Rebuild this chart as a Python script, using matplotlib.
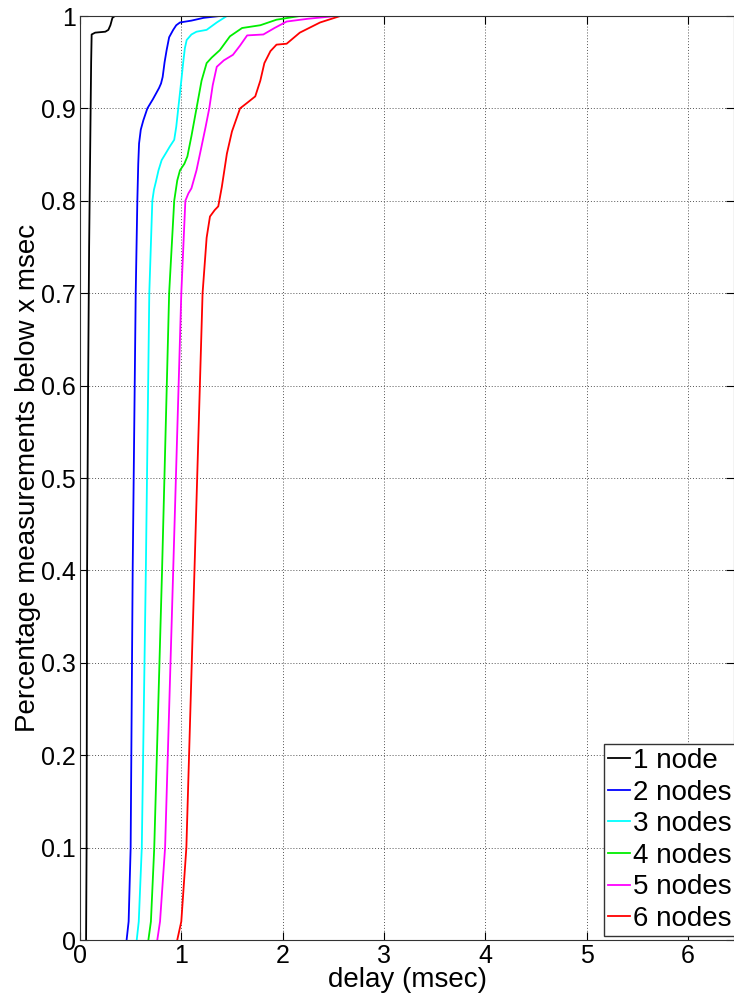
import matplotlib.pyplot as plt

# CDF curves (delay in msec, fraction below x)
labels = ['1 node', '2 nodes', '3 nodes', '4 nodes', '5 nodes', '6 nodes']
colors = ['black', 'blue', 'cyan', '#00ee00', 'magenta', 'red']

x1 = [0.06, 0.065, 0.07, 0.08, 0.09, 0.10, 0.11, 0.115, 0.15, 0.25, 0.28, 0.30, 0.32, 0.345, 0.55]
y1 = [0.0, 0.1, 0.4, 0.6, 0.75, 0.85, 0.95, 0.98, 0.982, 0.983, 0.985, 0.99, 0.998, 1.0, 1.0]

x2 = [0.46, 0.48, 0.50, 0.52, 0.55, 0.566, 0.575, 0.583, 0.60, 0.625, 0.665, 0.72, 0.78, 0.80,
      0.816, 0.835, 0.855, 0.88, 0.92, 0.95, 0.987, 1.10, 1.22, 1.38, 1.45]
y2 = [0.0, 0.02, 0.1, 0.4, 0.7, 0.8, 0.84, 0.862, 0.877, 0.887, 0.9, 0.91, 0.922, 0.927,
      0.934, 0.95, 0.963, 0.977, 0.985, 0.99, 0.993, 0.995, 0.998, 1.0, 1.0]

x3 = [0.56, 0.58, 0.61, 0.65, 0.684, 0.714, 0.73, 0.75, 0.775, 0.806, 0.85, 0.888, 0.93, 0.95,
      0.97, 1.0, 1.02, 1.035, 1.053, 1.10, 1.15, 1.25, 1.35, 1.45, 1.55]
y3 = [0.0, 0.02, 0.1, 0.4, 0.7, 0.8, 0.812, 0.821, 0.833, 0.844, 0.852, 0.859, 0.866, 0.88,
      0.9, 0.93, 0.951, 0.965, 0.974, 0.98, 0.983, 0.985, 0.993, 1.0, 1.0]

x4 = [0.675, 0.70, 0.733, 0.81, 0.88, 0.93, 0.96, 0.987, 1.03, 1.06, 1.10, 1.15, 1.20, 1.25,
      1.30, 1.38, 1.48, 1.60, 1.78, 1.94, 2.17, 2.3]
y4 = [0.0, 0.02, 0.1, 0.4, 0.7, 0.8, 0.822, 0.833, 0.84, 0.848, 0.87, 0.9, 0.93, 0.949,
      0.955, 0.963, 0.978, 0.987, 0.99, 0.996, 1.0, 1.0]

x5 = [0.763, 0.79, 0.84, 0.92, 1.0, 1.04, 1.07, 1.10, 1.15, 1.20, 1.24, 1.276, 1.31, 1.35, 1.42,
      1.51, 1.58, 1.65, 1.81, 1.92, 2.04, 2.25, 2.53, 2.6]
y5 = [0.0, 0.02, 0.1, 0.4, 0.7, 0.8, 0.808, 0.8135, 0.833, 0.859, 0.88, 0.9, 0.925, 0.945, 0.952,
      0.958, 0.968, 0.979, 0.98, 0.987, 0.994, 0.997, 1.0, 1.0]

x6 = [0.96, 1.0, 1.05, 1.13, 1.21, 1.25, 1.283, 1.33, 1.365, 1.40, 1.45, 1.50, 1.58, 1.65, 1.73,
      1.78, 1.82, 1.88, 1.94, 2.04, 2.17, 2.37, 2.57, 2.94]
y6 = [0.0, 0.02, 0.1, 0.4, 0.7, 0.76, 0.783, 0.79, 0.794, 0.815, 0.851, 0.875, 0.9, 0.906, 0.913,
      0.93, 0.949, 0.962, 0.969, 0.97, 0.982, 0.993, 1.0, 1.0]

xs = [x1, x2, x3, x4, x5, x6]
ys = [y1, y2, y3, y4, y5, y6]

plt.rcParams['font.family'] = ['Liberation Sans', 'DejaVu Sans']

fig = plt.figure(figsize=(7.34, 9.96), dpi=100)
ax = fig.add_axes([80 / 734, 56 / 996, 654 / 734, 924 / 996])

for x, y, c, lab in zip(xs, ys, colors, labels):
    ax.plot(x, y, color=c, lw=1.3, label=lab)

ax.set_xlim(0, 654 / 101.3)
ax.set_ylim(0, 1)
ax.set_xticks(range(7))
ax.set_xticklabels(['0', '1', '2', '3', '4', '5', '6'])
ax.set_yticks([i / 10 for i in range(11)])
ax.set_yticklabels(['0', '0.1', '0.2', '0.3', '0.4', '0.5', '0.6', '0.7', '0.8', '0.9', '1'])
ax.tick_params(direction='in', labelsize=18, length=6, top=True, right=True, pad=3)
ax.grid(True, linestyle=(0, (1, 2)), color='#555555', lw=0.7)
for s in ax.spines.values():
    s.set_color('#333333')

ax.set_xlabel('delay (msec)', fontsize=20, labelpad=-1)
ax.set_ylabel('Percentage measurements below x msec', fontsize=20, labelpad=0)

leg = ax.legend(loc='lower left', bbox_to_anchor=(524 / 654, 4 / 924), borderaxespad=0,
                fontsize=20, handlelength=0.8, handletextpad=0.08, labelspacing=0.2,
                fancybox=False, framealpha=1, borderpad=0.15)
leg.get_frame().set_edgecolor('#333333')
leg.get_frame().set_linewidth(1.0)

fig.savefig('out.png', dpi=100)
